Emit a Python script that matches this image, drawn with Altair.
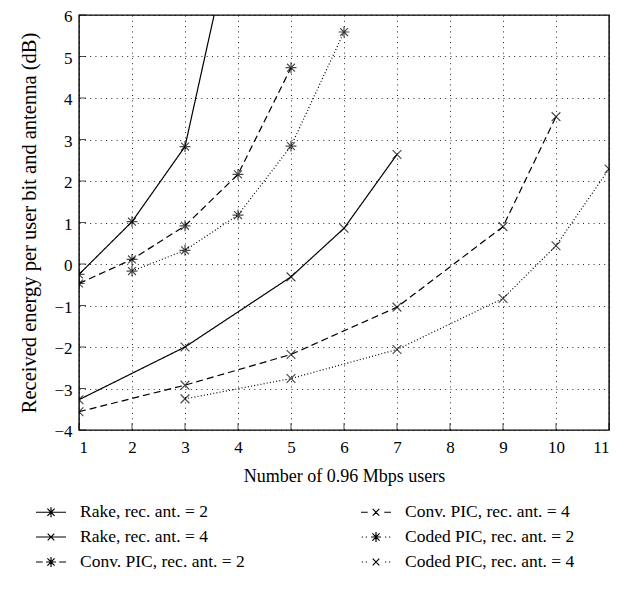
import altair as alt
import pandas as pd

series_names = [
    "Rake, rec. ant. = 2",
    "Rake, rec. ant. = 4",
    "Conv. PIC, rec. ant. = 2",
    "Conv. PIC, rec. ant. = 4",
    "Coded PIC, rec. ant. = 2",
    "Coded PIC, rec. ant. = 4",
]

rake2_x = [1, 2, 3, 4]
rake2_y = [-0.25, 1.02, 2.83, 8.6]
rake4_x = [1, 3, 5, 6, 7]
rake4_y = [-3.27, -2.0, -0.31, 0.86, 2.64]
conv2_x = [1, 2, 3, 4, 5]
conv2_y = [-0.47, 0.11, 0.92, 2.16, 4.73]
conv4_x = [1, 3, 5, 7, 9, 10]
conv4_y = [-3.56, -2.92, -2.18, -1.04, 0.9, 3.55]
coded2_x = [2, 3, 4, 5, 6]
coded2_y = [-0.17, 0.33, 1.18, 2.84, 5.59]
coded4_x = [3, 5, 7, 9, 10, 11]
coded4_y = [-3.25, -2.76, -2.06, -0.83, 0.44, 2.29]

x_ticks = [1, 2, 3, 4, 5, 6, 7, 8, 9, 10, 11]
y_ticks = [-4, -3, -2, -1, 0, 1, 2, 3, 4, 5, 6]

xs = [rake2_x, rake4_x, conv2_x, conv4_x, coded2_x, coded4_x]
ys = [rake2_y, rake4_y, conv2_y, conv4_y, coded2_y, coded4_y]
rows = []
for name, xv, yv in zip(series_names, xs, ys):
    for a, b in zip(xv, yv):
        rows.append({"series": name, "x": a, "y": b})
df = pd.DataFrame(rows)

# marker paths
STAR = "M-1,0L1,0M0,-1L0,1M-0.72,-0.72L0.72,0.72M-0.72,0.72L0.72,-0.72"
CROSS = "M-0.8,-0.8L0.8,0.8M-0.8,0.8L0.8,-0.8"
# legend paths (x in [-1,1] -> 30px)
LSTAR = "M-0.33,0L0.33,0M0,-0.33L0,0.33M-0.24,-0.24L0.24,0.24M-0.24,0.24L0.24,-0.24"
LCROSS = "M-0.22,-0.22L0.22,0.22M-0.22,0.22L0.22,-0.22"
SOLID = "M-1,0L1,0"
DASHED = "M-1,0L-0.55,0M0.55,0L1,0"
DOTTED = "M-0.95,0L-0.87,0M-0.68,0L-0.6,0M0.6,0L0.68,0M0.87,0L0.95,0"

marker_range = [STAR, CROSS, STAR, CROSS, STAR, CROSS]
legend_range = [SOLID + LSTAR, SOLID + LCROSS, DASHED + LSTAR,
                DASHED + LCROSS, DOTTED + LSTAR, DOTTED + LCROSS]
dash_range = [[1, 0], [1, 0], [7, 4], [7, 4], [1, 2.2], [1, 2.2]]

FONT = "Liberation Serif"
W, H = 530, 415

xs_scale = alt.Scale(domain=[1, 11], nice=False, zero=False)
ys_scale = alt.Scale(domain=[-4, 6], nice=False, zero=False)

base = alt.Chart(df)

lines = base.mark_line(color="black", strokeWidth=1.2, clip=True).encode(
    x=alt.X("x:Q", scale=xs_scale,
            axis=alt.Axis(values=x_ticks, title="Number of 0.96 Mbps users",
                          grid=True, gridDash=[1, 4.3], gridColor="black",
                          gridOpacity=0.85, tickSize=0, labelPadding=9,
                          titlePadding=12, titleFontSize=18,
                          domain=False, format="d")),
    y=alt.Y("y:Q", scale=ys_scale,
            axis=alt.Axis(values=y_ticks,
                          title="Received energy per user bit and antenna (dB)",
                          grid=True, gridDash=[1, 4.3], gridColor="black",
                          gridOpacity=0.85, tickSize=0, labelPadding=7,
                          labelOffset=1.5, titleFontSize=20.5,
                          titlePadding=14, domain=False, format="d")),
    strokeDash=alt.StrokeDash("series:N",
                              scale=alt.Scale(domain=series_names, range=dash_range),
                              legend=None),
    detail="series:N",
)

points = base.mark_point(color="black", size=120, strokeWidth=1.2,
                         filled=False, clip=True).encode(
    x="x:Q",
    y="y:Q",
    shape=alt.Shape("series:N",
                    scale=alt.Scale(domain=series_names, range=marker_range),
                    legend=None),
)

legend_layer = base.mark_point(color="black", opacity=0, filled=False,
                               clip=True).encode(
    x="x:Q",
    y="y:Q",
    shape=alt.Shape(
        "series:N",
        scale=alt.Scale(domain=series_names, range=legend_range),
        legend=alt.Legend(
            title=None, orient="none", legendX=-44, legendY=481, columns=2,
            columnPadding=113, rowPadding=0, symbolSize=900,
            symbolStrokeColor="black", symbolStrokeWidth=1.2,
            symbolFillColor="transparent", symbolOpacity=1,
            labelFont=FONT, labelFontSize=17.5, labelColor="black",
            labelOffset=13, labelLimit=300, symbolOffset=0,
        ),
    ),
)

x_in_ticks = alt.Chart(pd.DataFrame({"x": x_ticks})).mark_tick(
    color="black", orient="vertical", size=7, thickness=1, yOffset=-3.5
).encode(x=alt.X("x:Q", scale=xs_scale), y=alt.datum(-4, scale=ys_scale))

y_in_ticks = alt.Chart(pd.DataFrame({"y": y_ticks})).mark_tick(
    color="black", orient="horizontal", size=7, thickness=1, xOffset=3.5
).encode(y=alt.Y("y:Q", scale=ys_scale), x=alt.datum(1, scale=xs_scale))

chart = alt.layer(lines, points, legend_layer, x_in_ticks, y_in_ticks).resolve_scale(
    shape="independent"
).properties(
    width=W, height=H, background="white",
    autosize=alt.AutoSizeParams(type="none"),
    padding={"left": 71, "top": 7, "right": 10, "bottom": 154},
).configure_view(
    stroke="black", strokeWidth=1.4
).configure_axis(
    labelFont=FONT, labelFontSize=17, labelColor="black",
    titleFont=FONT, titleColor="black", titleFontWeight="normal",
)

chart.save("out.html", embed_options={"renderer": "svg", "actions": False})
